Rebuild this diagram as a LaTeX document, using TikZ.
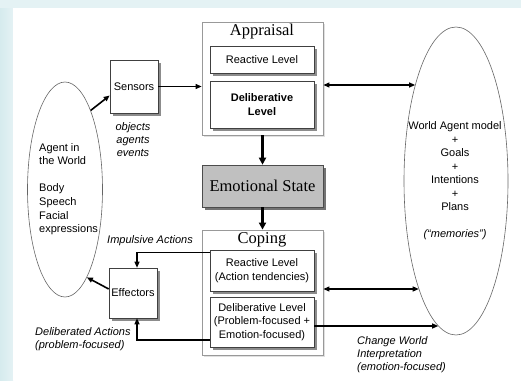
\documentclass[tikz,border=0pt]{standalone}
\usepackage{fontspec}
\setmainfont{Liberation Sans}
\newfontfamily\serifA{Liberation Serif}
\usetikzlibrary{arrows.meta,shapes.geometric,shadows,calc}
\definecolor{bgc}{HTML}{E4F2F4}
\definecolor{bgl}{HTML}{D6EBEE}
\definecolor{emofill}{HTML}{C0C0C0}
\begin{document}
\begin{tikzpicture}[x=1pt,y=-1pt,
  font=\fontsize{11}{13.5}\selectfont,
  innerbox/.style={draw=black!75, fill=white, line width=0.6pt, inner sep=0pt, align=center,
    drop shadow={shadow xshift=3pt,shadow yshift=-3pt,fill=black!45,opacity=1}},
  outerbox/.style={draw=black!40, fill=white, line width=0.8pt, inner sep=0pt,
    drop shadow={shadow xshift=2pt,shadow yshift=-2pt,fill=black!12,opacity=1}},
  emobox/.style={draw=black!70, fill=emofill, line width=0.6pt, inner sep=0pt,
    font=\serifA\fontsize{16.5}{18}\selectfont,
    drop shadow={shadow xshift=3pt,shadow yshift=-3pt,fill=black!55,opacity=1}},
  titletext/.style={font=\serifA\fontsize{16.5}{18}\selectfont, inner sep=0pt},
  oval/.style={draw=black!60, line width=0.6pt, ellipse, inner sep=0pt},
  lbl/.style={font=\itshape\fontsize{11}{13}\selectfont, inner sep=0pt},
  arr/.style={draw=black, line width=1.1pt, -{Triangle[length=6pt,width=5pt]}},
  darr/.style={draw=black, line width=1.1pt, {Triangle[length=6pt,width=5pt]}-{Triangle[length=6pt,width=5pt]}},
  tarr/.style={draw=black, line width=2.2pt, -{Triangle[length=7pt,width=7pt]}}
]
\useasboundingbox (0,0) rectangle (521,380);
\fill[bgc] (0,0) rectangle (521,380);
\shade[left color=bgl, right color=bgc] (0,8) rectangle (13,380);
\fill[white] (13,8) rectangle (521,380);

% ellipses
\node[oval, minimum width=75pt, minimum height=215pt] (agent) at (65,189.5) {};
\node[oval, minimum width=104pt, minimum height=308pt] (world) at (456,181) {};

\node[anchor=west, align=left, inner sep=0pt, font=\fontsize{11}{13.6}\selectfont] (agenttxt) at (39,189)
  {Agent in\\the World\\[13.6pt]Body\\Speech\\Facial\\expressions};
\node[align=center, inner sep=0pt] (worldtxt) at (455,181)
  {World Agent model\\+\\Goals\\+\\Intentions\\+\\Plans\\[13.5pt]\textit{(“memories”)}};

% outer boxes
\node[outerbox, minimum width=121pt, minimum height=113pt] (appraisal) at (262.5,78.5) {};
\node[outerbox, minimum width=121pt, minimum height=125pt] (coping) at (262.5,292.5) {};
\node[titletext] (apptitle) at (262,32) {Appraisal};
\node[titletext] (coptitle) at (262,240) {Coping};

% inner boxes
\node[innerbox, minimum width=104pt, minimum height=27pt] (apprea) at (262,59.5) {Reactive Level};
\node[innerbox, minimum width=104pt, minimum height=47pt, font=\bfseries\fontsize{11}{13.5}\selectfont] (appdel) at (262,104.5) {Deliberative\\Level};
\node[emobox, minimum width=121pt, minimum height=42pt] (emo) at (262.5,186) {Emotional State};
\node[innerbox, minimum width=104pt, minimum height=41pt] (coprea) at (262,270.5) {Reactive Level\\(Action tendencies)};
\node[innerbox, minimum width=104pt, minimum height=50pt] (copdel) at (262,322) {Deliberative Level\\(Problem-focused +\\Emotion-focused)};

\node[innerbox, minimum width=48pt, minimum height=53pt] (sensors) at (134,86.5) {Sensors};
\node[innerbox, minimum width=48pt, minimum height=50pt] (effectors) at (133,293) {Effectors};

% labels
\node[lbl, align=center] (objlbl) at (133,139.5) {objects\\agents\\events};
\node[lbl] (implbl) at (150,241) {Impulsive Actions};
\node[lbl, anchor=west, align=left] (dellbl) at (35,339) {Deliberated Actions\\(problem-focused)};
\node[lbl, anchor=west, align=left] (chglbl) at (357,355) {Change World\\Interpretation\\(emotion-focused)};

% connectors
\draw[arr, line width=1.6pt] (agent.72) -- ($(sensors.west)+(0,9)$);
\draw[arr] (sensors.east) -- (sensors.east -| appraisal.west);
\coordinate (ad) at ($(appraisal.east)+(0,6.5)$);
\draw[darr] (ad) -- (ad -| world.113);
\draw[tarr] (appraisal.south) -- (emo.north);
\draw[tarr] (emo.south) -- (coping.north);
\coordinate (cd) at ($(coping.east)+(0,-3.5)$);
\draw[darr] (cd) -- (cd -| world.-109);
\coordinate (cw) at ($(copdel.east)+(0,4)$);
\draw[arr] (cw) -- (cw -| world.-97);
\draw[arr] ($(coprea.north west)+(0,3)$) -| ($(effectors.north)+(4,0)$);
\draw[arr] ($(copdel.west)+(0,18)$) -| ($(effectors.south)+(4,0)$);
\draw[arr, line width=1.6pt] ($(effectors.west)+(0,-4)$) -- (agent.-76);
\end{tikzpicture}
\end{document}
